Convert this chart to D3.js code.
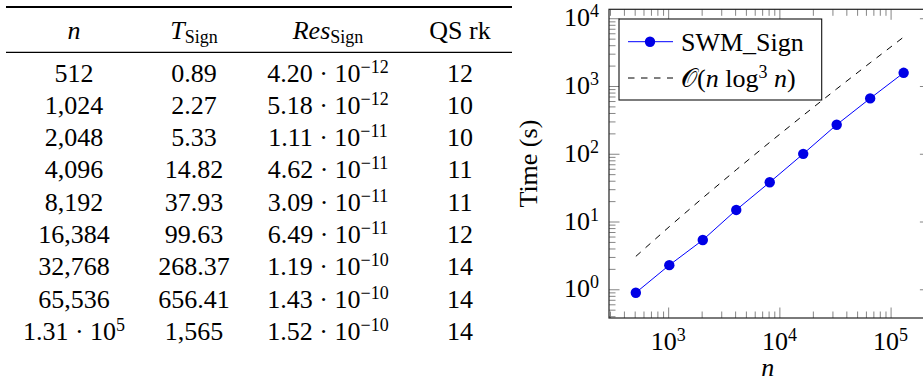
<!DOCTYPE html>
<html><head><meta charset="utf-8">
<script src="https://cdn.jsdelivr.net/npm/d3@7"></script>
<style>body{margin:0;background:#fff} svg{display:block} text{font-family:"Liberation Serif";}</style>
</head><body>
<svg id="c" width="923" height="381" font-family="Liberation Serif"></svg>
<script>
// ---------- data ----------
const nValues = [512, 1024, 2048, 4096, 8192, 16384, 32768, 65536, 131072];
const tSign = [0.89, 2.27, 5.33, 14.82, 37.93, 99.63, 268.37, 656.41, 1565];
const refValues = [3.06, 8.40, 22.35, 58.0, 147.6, 368.7, 906.9, 2201, 5281];
const nLabels = ["512","1,024","2,048","4,096","8,192","16,384","32,768","65,536","1.31 · 10^{5}"];
const tLabels = ["0.89","2.27","5.33","14.82","37.93","99.63","268.37","656.41","1,565"];
const resLabels = ["4.20 · 10^{−12}","5.18 · 10^{−12}","1.11 · 10^{−11}","4.62 · 10^{−11}",
  "3.09 · 10^{−11}","6.49 · 10^{−11}","1.19 · 10^{−10}","1.43 · 10^{−10}","1.52 · 10^{−10}"];
const qsRank = ["12","10","10","11","11","12","14","14","14"];
const headers = ["*n*", "*T*_{Sign}", "*Res*_{Sign}", "QS rk"];
const xTickExps = [3, 4, 5];
const yTickExps = [0, 1, 2, 3, 4];
const seriesNames = ["SWM_Sign", "𝒪(*n* log^{3} *n*)"];

// ---------- helpers ----------
const FONT = "Liberation Serif";
function rich(parent, str, fs, x, y, anchor) {
  const parts = str.split(/(\^\{[^}]*\}|_\{[^}]*\}|\*[^*]*\*)/).filter(s => s.length);
  const t = parent.append('text').attr('font-family', FONT).style('font-family', FONT)
    .attr('font-size', fs).attr('x', x).attr('y', y).attr('text-anchor', anchor)
    .attr('xml:space', 'preserve');
  let cur = 0;
  parts.forEach(p => {
    let s = p, size = fs, off = 0, italic = false;
    if (p.startsWith('^{')) { s = p.slice(2, -1); size = Math.round(fs * 0.7); off = -Math.round(fs * 0.36); }
    else if (p.startsWith('_{')) { s = p.slice(2, -1); size = Math.round(fs * 0.7); off = Math.round(fs * 0.16); }
    else if (p.startsWith('*')) { s = p.slice(1, -1); italic = true; }
    t.append('tspan').attr('font-family', FONT).style('font-family', FONT)
      .attr('dy', off - cur).attr('font-size', size)
      .attr('font-style', italic ? 'italic' : 'normal').text(s);
    cur = off;
  });
  return t;
}

const svg = d3.select('#c');

// ---------- table ----------
const FS = 26;
const colX = [74, 194, 328, 460];
const tableLeft = 6, tableRight = 512;
svg.append('line').attr('x1', tableLeft).attr('x2', tableRight).attr('y1', 7).attr('y2', 7)
  .attr('stroke', '#000').attr('stroke-width', 1.8);
svg.append('line').attr('x1', tableLeft).attr('x2', tableRight).attr('y1', 52.3).attr('y2', 52.3)
  .attr('stroke', '#000').attr('stroke-width', 1.2);
headers.forEach((h, i) => rich(svg, h, FS, colX[i], 39, 'middle'));
const rowY = d3.scaleLinear().domain([0, 1]).range([81.5, 113.8]);
const cols = [nLabels, tLabels, resLabels, qsRank];
cols.forEach((col, ci) => col.forEach((s, ri) => rich(svg, s, FS, colX[ci], rowY(ri), 'middle')));

// ---------- plot ----------
const L = 609, R = 930.4, T = 9.3, B = 318;
const x = d3.scaleLog().domain([Math.pow(10, 2.468), Math.pow(10, 5.358)]).range([L, R]);
const y = d3.scaleLog().domain([Math.pow(10, -0.424), Math.pow(10, 4.132)]).range([B, T]);

const isMajor = v => Math.abs(Math.log10(v) - Math.round(Math.log10(v))) < 1e-9;
const xAll = x.ticks(), yAll = y.ticks();
const xMinor = xAll.filter(v => !isMajor(v)), xMajor = xAll.filter(isMajor);
const yMinor = yAll.filter(v => !isMajor(v)), yMajor = yAll.filter(isMajor);

const tickG = svg.append('g').attr('class', 'ticks');
function axisPair(axisFn, scale, vals, size, transform) {
  const g = tickG.append('g').attr('transform', transform)
    .call(axisFn(scale).tickValues(vals).tickSize(-size).tickFormat(''));
  g.select('.domain').remove();
  g.selectAll('line').attr('stroke', '#777').attr('stroke-width', 0.9);
  g.selectAll('text').remove();
  g.attr('font-family', null).attr('font-size', null);
}
axisPair(d3.axisBottom, x, xMinor, 6.5, `translate(0,${B})`);
axisPair(d3.axisBottom, x, xMajor, 10.5, `translate(0,${B})`);
axisPair(d3.axisTop, x, xMinor, 6.5, `translate(0,${T})`);
axisPair(d3.axisTop, x, xMajor, 10.5, `translate(0,${T})`);
axisPair(d3.axisLeft, y, yMinor, 6.5, `translate(${L},0)`);
axisPair(d3.axisLeft, y, yMajor, 10.5, `translate(${L},0)`);
axisPair(d3.axisRight, y, yMinor, 6.5, `translate(${R},0)`);
axisPair(d3.axisRight, y, yMajor, 10.5, `translate(${R},0)`);

// frame
svg.append('rect').attr('x', L).attr('y', T).attr('width', R - L).attr('height', B - T)
  .attr('fill', 'none').attr('stroke', '#222').attr('stroke-width', 1.2);

// tick labels
const TFS = 26;
xTickExps.forEach(e => rich(svg, `10^{${e}}`, TFS, x(Math.pow(10, e)), 350, 'middle'));
yTickExps.forEach(e => rich(svg, `10^{${e}}`, TFS, 599, y(Math.pow(10, e)) + 8, 'end'));

// axis labels
svg.append('text').attr('font-family', FONT).style('font-family', FONT)
  .attr('transform', `translate(537,${(T + B) / 2}) rotate(-90)`)
  .attr('text-anchor', 'middle').attr('font-size', TFS).text('Time (s)');
rich(svg, '*n*', TFS, (L + R) / 2 - 2, 376, 'middle');

// reference dashed line
const line = d3.line().x(d => x(d[0])).y(d => y(d[1]));
svg.append('path').datum(nValues.map((n, i) => [n, refValues[i]]))
  .attr('d', line).attr('fill', 'none').attr('stroke', '#000').attr('stroke-width', 1)
  .attr('stroke-dasharray', '6.5,6.5');

// series
svg.append('path').datum(nValues.map((n, i) => [n, tSign[i]]))
  .attr('d', line).attr('fill', 'none').attr('stroke', '#0000ff').attr('stroke-width', 1);
svg.append('g').selectAll('circle').data(nValues.map((n, i) => [n, tSign[i]])).join('circle')
  .attr('cx', d => x(d[0])).attr('cy', d => y(d[1])).attr('r', 5.2).attr('fill', '#0000e6');

// legend
const lg = svg.append('g');
lg.append('rect').attr('x', 619).attr('y', 19).attr('width', 202.7).attr('height', 81)
  .attr('fill', '#fff').attr('stroke', '#111').attr('stroke-width', 1.1);
lg.append('line').attr('x1', 628).attr('x2', 673).attr('y1', 41.7).attr('y2', 41.7)
  .attr('stroke', '#0000ff').attr('stroke-width', 1);
lg.append('circle').attr('cx', 650).attr('cy', 41.7).attr('r', 5.2).attr('fill', '#0000e6');
lg.append('line').attr('x1', 628).attr('x2', 673).attr('y1', 78).attr('y2', 78)
  .attr('stroke', '#000').attr('stroke-width', 1).attr('stroke-dasharray', '6.5,6.5');
rich(lg, seriesNames[0], TFS, 681, 50.5, 'start');
rich(lg, seriesNames[1], TFS, 681, 87, 'start');
</script>
</body></html>
